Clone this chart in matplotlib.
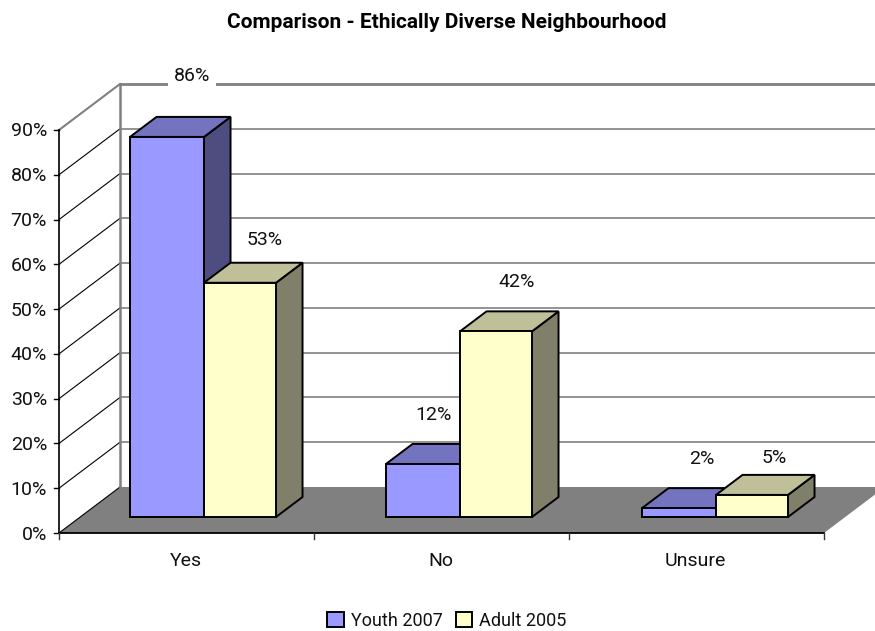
import matplotlib
matplotlib.use("Agg")
import matplotlib.pyplot as plt
from matplotlib.patches import Polygon, Patch

plt.rcParams['font.family'] = ['Roboto', 'Liberation Sans', 'DejaVu Sans']

TITLE = "Comparison - Ethically Diverse Neighbourhood"
categories = ["Yes", "No", "Unsure"]
youth_2007 = [86, 12, 2]
adult_2005 = [53, 42, 5]
y_ticks = [0, 10, 20, 30, 40, 50, 60, 70, 80, 90]

W, H = 875, 631
LEFT, RIGHT, BOTTOM, TOP = 59, 824, 533, 130
FS = 14
fig = plt.figure(figsize=(W / 100, H / 100), dpi=100, facecolor="white")
ax = fig.add_axes([LEFT / W, 1 - BOTTOM / H, (RIGHT - LEFT) / W, (BOTTOM - TOP) / H])
ax.set_xlim(0, 3)
ax.set_ylim(0, 90)
ax.axis("off")

PX_X = (RIGHT - LEFT) / 3          # pixels per category
PX_Y = (BOTTOM - TOP) / 90         # pixels per percent
DEPTH_X = 61 / PX_X                # oblique shift of the back wall
DEPTH_Y = 46 / PX_Y
BAR_SCALE = 0.987                  # bars sit slightly forward of the wall scale
BAR_FRONT, BAR_BACK = 0.348, 0.783 # depth range occupied by the bars
BAR_START = 71 / PX_X
BAR_STEP = 256 / PX_X
YOUTH_W = 74 / PX_X
ADULT_W = 72 / PX_X


def proj(x, y, d=0.0):
    """Map category position, percent and depth fraction onto the flat axes."""
    return (x + d * DEPTH_X, y + d * DEPTH_Y)


GRID = "#808080"
# floor
ax.add_patch(Polygon([proj(0, 0), proj(0, 0, 1), proj(3, 0, 1), proj(3, 0)],
                     fc="#808080", ec="none", clip_on=False, zorder=1))
# wall grid lines and side-wall diagonals
for t in y_ticks:
    if t > 0:
        xs, ys = zip(proj(0, t, 1), proj(3, t, 1))
        ax.plot(xs, ys, color=GRID, lw=2.0 if t == 90 else 1.2, clip_on=False, zorder=2,
                solid_capstyle="butt")
    xs, ys = zip(proj(0, t), proj(0, t, 1))
    ax.plot(xs, ys, color=GRID if t == 90 else "black", lw=1.5 if t == 90 else 0.8,
            clip_on=False, zorder=2)
    ax.plot([0, -5 / PX_X], [t, t], color="black", lw=1.0, clip_on=False, zorder=4)
    ax.text(-12 / PX_X, t - 1.5 / PX_Y, f"{t}%", ha="right", va="center", fontsize=FS,
            color="#111111", clip_on=False)
xs, ys = zip(proj(0, 0, 1), proj(0, 90, 1))
ax.plot(xs, ys, color=GRID, lw=1.8, clip_on=False, zorder=2)


def draw_bar(x0, width, value, color, top, side, z):
    v = value * BAR_SCALE
    x1 = x0 + width
    common = dict(ec="black", lw=1.4, joinstyle="miter", clip_on=False, zorder=z)
    f = BAR_FRONT * DEPTH_Y
    dd = (BAR_BACK - BAR_FRONT)
    front = [(x0, f), (x1, f), (x1, f + v), (x0, f + v)]
    top_face = [(x0, f + v), (x1, f + v), (x1 + dd * DEPTH_X, f + v + dd * DEPTH_Y),
                (x0 + dd * DEPTH_X, f + v + dd * DEPTH_Y)]
    side_face = [(x1, f), (x1 + dd * DEPTH_X, f + dd * DEPTH_Y),
                 (x1 + dd * DEPTH_X, f + v + dd * DEPTH_Y), (x1, f + v)]
    ax.add_patch(Polygon(side_face, fc=side, **common))
    ax.add_patch(Polygon(top_face, fc=top, **common))
    ax.add_patch(Polygon(front, fc=color, **common))


YOUTH = ("#9999FF", "#7373BF", "#4D4D80")
ADULT = ("#FFFFCC", "#BFBF99", "#80806A")

# pixel shift of each value label from the top centre of its bar
youth_label_shift = [(25, 61), (11, 49), (23, 49)]
adult_label_shift = [(25, 43), (21, 49), (22, 37)]

z = 3.0
for i, (yv, av) in enumerate(zip(youth_2007, adult_2005)):
    x_y = i * BAR_STEP + BAR_START
    x_a = x_y + YOUTH_W
    draw_bar(x_y, YOUTH_W, yv, *YOUTH, z)
    draw_bar(x_a, ADULT_W, av, *ADULT, z + 0.1)
    z += 0.2
    for x0, w, val, (sx, sy) in ((x_y, YOUTH_W, yv, youth_label_shift[i]),
                                 (x_a, ADULT_W, av, adult_label_shift[i])):
        f = BAR_FRONT * DEPTH_Y
        kw = {}
        if val == max(youth_2007):
            kw["bbox"] = dict(fc="white", ec="none", pad=4)
        ax.annotate(f"{val}%", (x0 + w / 2, f + val * BAR_SCALE),
                    xytext=(sx * 0.72, sy * 0.72), textcoords="offset points",
                    ha="center", va="center", fontsize=FS, color="#111111",
                    annotation_clip=False, zorder=6, **kw)

# front axis lines, category ticks and labels
ax.plot([0, 0], [0, 90], color="black", lw=1.2, clip_on=False, zorder=4)
ax.plot([0, 3], [0, 0], color="black", lw=1.3, clip_on=False, zorder=4)
for t in range(4):
    ax.plot([t, t], [0, -6 / PX_Y], color="#333333", lw=1.0, clip_on=False, zorder=4)
for i, c in enumerate(categories):
    ax.text(i + 0.5 - 1 / PX_X, -28 / PX_Y, c, ha="center", va="center",
            fontsize=FS, color="#111111", clip_on=False)

fig.text(447 / W, 1 - 22 / H, TITLE, ha="center", va="center", fontsize=15,
         fontweight="bold", color="black")

handles = [Patch(fc=YOUTH[0], ec="black", lw=1.4, label="Youth 2007"),
           Patch(fc=ADULT[0], ec="black", lw=1.4, label="Adult 2005")]
fig.legend(handles=handles, loc="center", bbox_to_anchor=(447 / W, 1 - 621 / H), ncols=2,
           frameon=False, fontsize=13, handlelength=0.92, handleheight=0.92,
           handletextpad=0.4, columnspacing=0.7, borderpad=0, labelcolor="#111111")

fig.savefig("out.png", dpi=100, facecolor="white")
